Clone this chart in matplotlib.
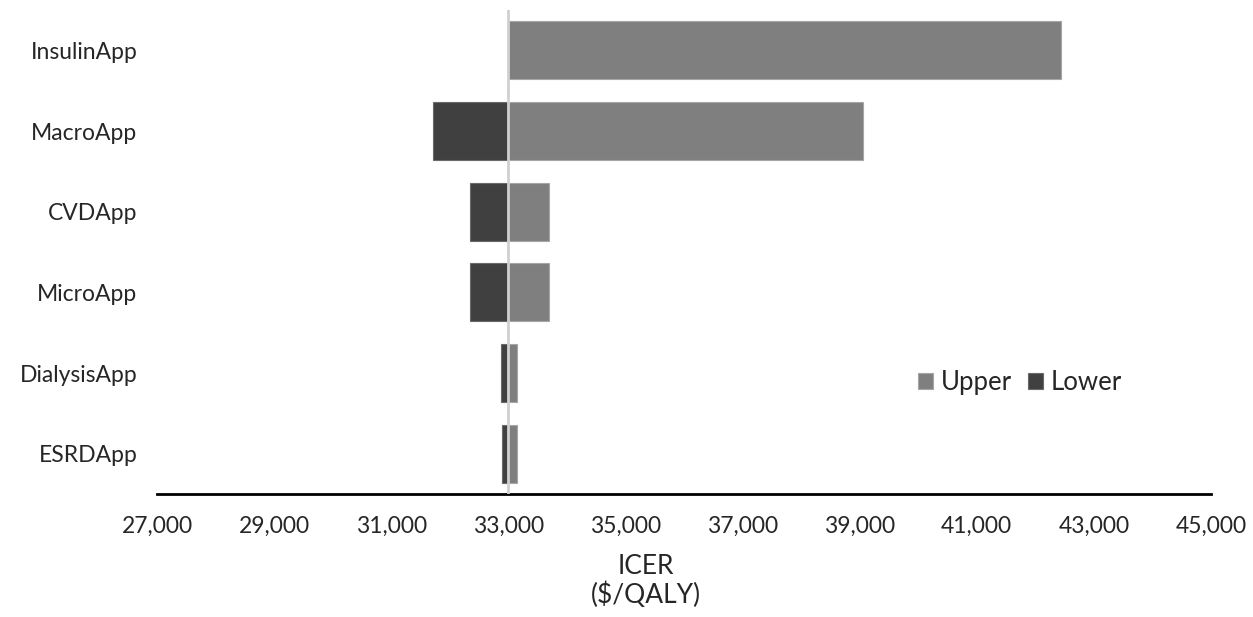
import matplotlib.pyplot as plt
from matplotlib.ticker import FuncFormatter

# datos del tornado (ICER $/QALY)
categorias = ['InsulinApp', 'MacroApp', 'CVDApp', 'MicroApp', 'DialysisApp', 'ESRDApp']
base = 33000
upper = [42440, 39060, 33700, 33700, 33150, 33150]
lower = [33000, 31720, 32345, 32345, 32870, 32890]

plt.rcParams['font.family'] = ['Lato', 'DejaVu Sans']

fig = plt.figure(figsize=(12.53, 6.17), dpi=100)
ax = fig.add_axes([157/1253, 1 - 494/617, (1211-157)/1253, (494-10)/617])

pos = list(range(len(categorias)))
ax.barh(pos, [u - base for u in upper], left=base, height=0.72,
        color='#7f7f7f', edgecolor='#a6a6a6', linewidth=0.8, label='Upper')
ax.barh(pos, [l - base for l in lower], left=base, height=0.72,
        color='#404040', edgecolor='#6a6a6a', linewidth=0.8, label='Lower')

ax.axvline(base, color='#d0d0d0', linewidth=2, zorder=3)

ax.set_xlim(27000, 45000)
ax.set_ylim(len(categorias) - 0.5, -0.5)
ax.set_xticks(range(27000, 45001, 2000))
ax.xaxis.set_major_formatter(FuncFormatter(lambda v, p: '{:,.0f}'.format(v)))
ax.set_yticks(pos)
ax.set_yticklabels(categorias)

for s in ['top', 'right', 'left']:
    ax.spines[s].set_visible(False)
ax.spines['bottom'].set_linewidth(2)
ax.spines['bottom'].set_color('black')
ax.tick_params(axis='both', length=0, labelsize=16.5, colors='#262626')
ax.tick_params(axis='x', pad=16)
ax.tick_params(axis='y', pad=14)

ax.set_xlabel('ICER\n($/QALY)', fontsize=19, color='#262626', linespacing=1.1)
ax.xaxis.set_label_coords(0.464, -0.125)

ax.legend(loc='center left', bbox_to_anchor=(0.7, 0.23), ncol=2, frameon=False,
          fontsize=18.5, handlelength=0.6, handleheight=0.6, handletextpad=0.3,
          columnspacing=0.6, labelcolor='#262626')

plt.savefig('out.png', dpi=100)
